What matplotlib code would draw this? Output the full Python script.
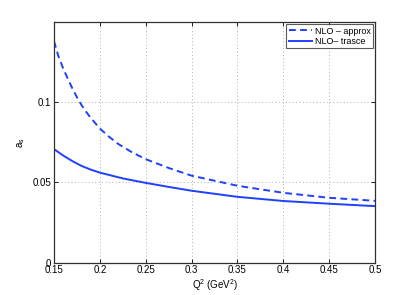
import matplotlib
matplotlib.use('Agg')
import matplotlib.pyplot as plt

# 读取的数据 (Q^2, a_s)
q2_approx = [0.15, 0.155, 0.16, 0.165, 0.17, 0.175, 0.18, 0.185, 0.19, 0.2,
             0.21, 0.22, 0.235, 0.25, 0.275, 0.3, 0.35, 0.4, 0.45, 0.5]
as_approx = [0.1382, 0.1285, 0.1212, 0.1148, 0.1087, 0.1032, 0.0983, 0.0941,
             0.0903, 0.0836, 0.0785, 0.0740, 0.0688, 0.0645, 0.0590, 0.0542,
             0.0479, 0.0435, 0.0404, 0.0385]

q2_trasce = [0.15, 0.16, 0.17, 0.18, 0.19, 0.2, 0.225, 0.25, 0.275, 0.3,
             0.35, 0.4, 0.45, 0.5]
as_trasce = [0.0708, 0.0668, 0.0633, 0.0603, 0.0580, 0.0561, 0.0525, 0.0497,
             0.0472, 0.0448, 0.0410, 0.0384, 0.0367, 0.0352]

xticks = [0.15, 0.2, 0.25, 0.3, 0.35, 0.4, 0.45, 0.5]
xticklabels = ['0.15', '0.2', '0.25', '0.3', '0.35', '0.4', '0.45', '0.5']
yticks = [0, 0.05, 0.1]
yticklabels = ['0', '0.05', '0.1']

plt.rcParams['font.family'] = ['Liberation Sans', 'DejaVu Sans']
plt.rcParams['mathtext.fontset'] = 'custom'
plt.rcParams['mathtext.rm'] = 'Liberation Sans'
plt.rcParams['mathtext.it'] = 'Liberation Sans'

fig = plt.figure(figsize=(4.15, 2.95), dpi=100)
ax = fig.add_axes([0.130, 0.110, 0.774, 0.815])

blue = '#2040ff'
ax.plot(q2_approx, as_approx, '--', color=blue, lw=1.4, dashes=(3.5, 2.2),
        label='NLO \u2013 approx')
ax.plot(q2_trasce, as_trasce, '-', color=blue, lw=1.4, label='NLO\u2013 trasce')

ax.set_xlim(0.15, 0.5)
ax.set_ylim(0, 0.15)
ax.set_xticks(xticks)
ax.set_xticklabels(xticklabels)
ax.set_yticks(yticks)
ax.set_yticklabels(yticklabels)

ax.grid(True, linestyle=(0, (1, 2.5)), color='#b0b0b0', lw=0.7)
ax.tick_params(direction='in', length=3, width=0.6, labelsize=7,
               top=True, right=True, pad=2)
for s in ax.spines.values():
    s.set_color('#303030')
    s.set_linewidth(0.9)

ax.set_xlabel('Q$^2$ (GeV$^2$)', fontsize=7, labelpad=1)
ax.set_ylabel('a$_s$', fontsize=7, labelpad=4)

leg = ax.legend(loc='upper right', fontsize=6.5, frameon=True, fancybox=False,
                borderaxespad=0.25, handlelength=2.6, handletextpad=0.3,
                borderpad=0.25, labelspacing=0.15)
leg.get_frame().set_edgecolor('#303030')
leg.get_frame().set_linewidth(0.8)

plt.savefig('out.png', dpi=100)
plt.close()
